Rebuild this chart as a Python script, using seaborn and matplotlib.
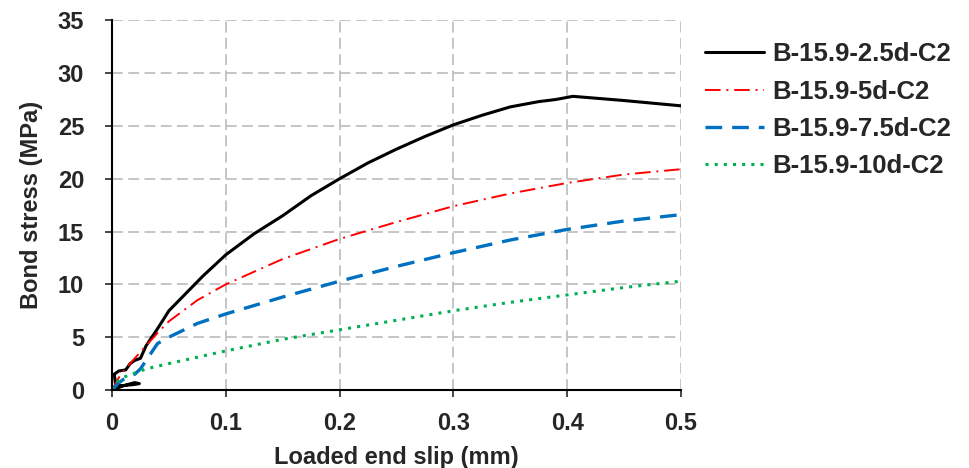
import numpy as np
import pandas as pd
import matplotlib
matplotlib.use("Agg")
import matplotlib.pyplot as plt
import seaborn as sns

# Values
slip_25 = [0.0, 0.010, 0.020, 0.024, 0.018, 0.008, 0.003, 0.002, 0.006, 0.012, 0.016, 0.020, 0.025,
           0.030, 0.040, 0.050, 0.060, 0.080, 0.100, 0.125, 0.150, 0.175, 0.200, 0.225,
           0.250, 0.275, 0.300, 0.325, 0.350, 0.375, 0.390, 0.405, 0.450, 0.500]
stress_25 = [0.0, 0.4, 0.7, 0.6, 0.5, 0.4, 0.6, 1.5, 1.8, 1.9, 2.5, 2.8, 3.0,
             4.2, 5.8, 7.5, 8.6, 10.8, 12.8, 14.8, 16.5, 18.4, 20.0, 21.5,
             22.8, 24.0, 25.1, 26.0, 26.8, 27.3, 27.5, 27.8, 27.4, 26.9]

slip_5 = [0.0, 0.005, 0.010, 0.020, 0.030, 0.040, 0.050, 0.075, 0.100, 0.150,
          0.200, 0.250, 0.300, 0.350, 0.400, 0.450, 0.500]
stress_5 = [0.0, 1.0, 1.8, 3.0, 4.2, 5.4, 6.5, 8.5, 10.0, 12.4,
            14.3, 15.9, 17.4, 18.6, 19.6, 20.4, 20.9]

slip_75 = [0.0, 0.005, 0.010, 0.020, 0.025, 0.030, 0.035, 0.040, 0.050, 0.075, 0.100,
           0.150, 0.200, 0.250, 0.300, 0.350, 0.400, 0.450, 0.500]
stress_75 = [0.0, 0.6, 1.0, 1.5, 2.0, 2.8, 3.6, 4.4, 5.0, 6.3, 7.2,
             8.8, 10.3, 11.7, 13.0, 14.2, 15.2, 16.0, 16.6]

slip_10 = [0.0, 0.005, 0.010, 0.020, 0.030, 0.050, 0.075, 0.100, 0.150,
           0.200, 0.250, 0.300, 0.350, 0.400, 0.450, 0.500]
stress_10 = [0.0, 0.8, 1.2, 1.6, 2.0, 2.5, 3.1, 3.7, 4.8,
             5.7, 6.6, 7.5, 8.3, 9.0, 9.7, 10.3]

labels = ["B-15.9-2.5d-C2", "B-15.9-5d-C2", "B-15.9-7.5d-C2", "B-15.9-10d-C2"]

sns.set_style("ticks")
plt.rcParams['font.family'] = ['Liberation Sans', 'DejaVu Sans']
plt.rcParams['font.weight'] = 'bold'

fig = plt.figure(figsize=(9.69, 4.68), dpi=100)
ax = fig.add_axes([0.1156, 0.1667, 0.5872, 0.79])

series = [
    (slip_25, stress_25, "black", "-", 2.2),
    (slip_5, stress_5, "#ff0000", (0, (8, 3, 1, 3)), 1.4),
    (slip_75, stress_75, "#0070c0", (0, (5, 3)), 2.4),
    (slip_10, stress_10, "#00b050", (0, (1, 2)), 2.2),
]
for (x, y, c, ls, lw), lab in zip(series, labels):
    df = pd.DataFrame({"slip": x, "stress": y})
    sns.lineplot(data=df, x="slip", y="stress", sort=False, estimator=None,
                 color=c, linestyle=ls, linewidth=lw, label=lab, ax=ax)

ax.set_xlim(0, 0.5)
ax.set_ylim(0, 35)
ax.set_xticks(np.arange(0, 0.51, 0.1))
ax.set_xticklabels(["0", "0.1", "0.2", "0.3", "0.4", "0.5"])
ax.set_yticks(np.arange(0, 36, 5))
ax.grid(True, color="#c0c0c0", linestyle=(0, (6, 3)), linewidth=1.3)
ax.set_axisbelow(True)
sns.despine(ax=ax)
for s in ["left", "bottom"]:
    ax.spines[s].set_linewidth(1.5)
    ax.spines[s].set_color("black")
ax.tick_params(axis="both", labelsize=17, width=1.2, length=5, direction="out")
ax.tick_params(axis="y", pad=15)
ax.tick_params(axis="x", pad=11)
for t in ax.get_xticklabels() + ax.get_yticklabels():
    t.set_fontweight("bold")
ax.set_xlabel("Loaded end slip (mm)", fontsize=17, fontweight="bold", labelpad=8)
ax.set_ylabel("Bond stress (MPa)", fontsize=17, fontweight="bold", labelpad=11)

leg = ax.legend(loc="upper left", bbox_to_anchor=(1.002, 1.003), frameon=False,
                handlelength=2.3, labelspacing=0.52, handletextpad=0.3,
                prop={"size": 18.5, "weight": "bold"})

fig.savefig("out.png", dpi=100)
